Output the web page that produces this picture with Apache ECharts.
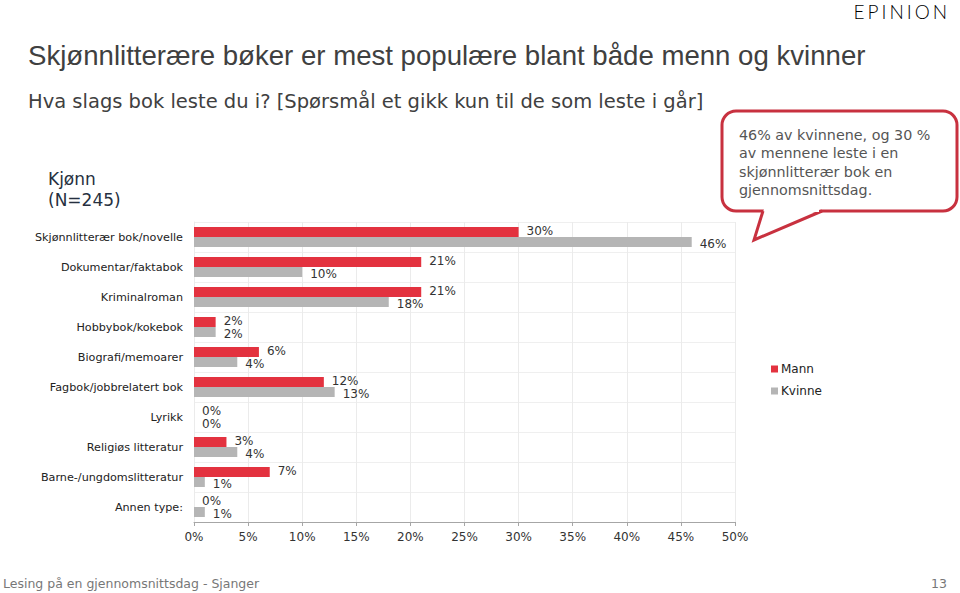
<!DOCTYPE html>
<html>
<head>
<meta charset="utf-8">
<script src="https://cdn.jsdelivr.net/npm/echarts@6/dist/echarts.min.js"></script>
<style>html,body{margin:0;padding:0;background:#fff;}#c{width:960px;height:593px;}</style>
</head>
<body>
<div id="c"></div>
<script>
const categories = ['Skjønnlitterær bok/novelle','Dokumentar/faktabok','Kriminalroman','Hobbybok/kokebok','Biografi/memoarer','Fagbok/jobbrelatert bok','Lyrikk','Religiøs litteratur','Barne-/ungdomslitteratur','Annen type:'];
const mann = [30, 21, 21, 2, 6, 12, 0, 3, 7, 0];
const kvinne = [46, 10, 18, 2, 4, 13, 0, 4, 1, 1];
const seriesNames = ['Mann', 'Kvinne'];
const xTicks = {min: 0, max: 50, interval: 5};

const RED = '#E3323F', GRAY = '#B5B5B5', BORDER = '#C8313F';
const chart = echarts.init(document.getElementById('c'), null, {renderer: 'svg'});
const F = 'DejaVu Sans, Verdana, sans-serif';
function lbl(dy) {
  return {show: true, position: 'right', distance: 8, offset: [0, dy], formatter: '{c}%', fontFamily: F, fontSize: 12, color: '#333'};
}
chart.setOption({
  animation: false,
  backgroundColor: '#fff',
  grid: {left: 194, right: 225, top: 222, bottom: 71, containLabel: false},
  legend: {
    orient: 'vertical', left: 771, top: 363, padding: 0, itemWidth: 7, itemHeight: 7, itemGap: 10,
    icon: 'rect', data: seriesNames,
    textStyle: {fontFamily: F, fontSize: 12, color: '#222', padding: [0, 0, 0, -2]}
  },
  xAxis: {
    type: 'value', min: xTicks.min, max: xTicks.max, interval: xTicks.interval,
    axisLine: {show: true, lineStyle: {color: '#A6A6A6', width: 1}},
    axisTick: {show: true, length: 4, lineStyle: {color: '#A6A6A6'}},
    axisLabel: {formatter: '{value}%', fontFamily: F, fontSize: 12, color: '#333', margin: 9},
    splitLine: {show: true, lineStyle: {color: '#EBEBEB'}}
  },
  yAxis: {
    type: 'category', data: categories, inverse: true,
    axisLine: {show: true, lineStyle: {color: '#EBEBEB'}},
    axisTick: {show: false},
    axisLabel: {fontFamily: F, fontSize: 11.2, color: '#222', margin: 11},
    splitLine: {show: true, lineStyle: {color: '#EFEFEF'}}
  },
  series: [
    {name: seriesNames[0], type: 'bar', data: mann, barWidth: 10, barGap: '0%', itemStyle: {color: RED}, label: lbl(-1)},
    {name: seriesNames[1], type: 'bar', data: kvinne, barWidth: 10, barGap: '0%', itemStyle: {color: GRAY}, label: lbl(1.5)}
  ],
  graphic: [
    {type: 'text', x: 28, y: 41, style: {text: 'Skjønnlitterære bøker er mest populære blant både menn og kvinner', font: '27.6px "Liberation Sans", Arial, sans-serif', fill: '#404040'}},
    {type: 'text', x: 28, y: 91, style: {text: 'Hva slags bok leste du i? [Spørsmål et gikk kun til de som leste i går]', font: '19.5px ' + F, fill: '#404040'}},
    {type: 'text', x: 48, y: 168, style: {text: 'Kjønn\n(N=245)', font: '17px ' + F, fill: '#263040', lineHeight: 21}},
    {type: 'rect', shape: {x: 722, y: 111, width: 235, height: 100, r: 14}, style: {fill: '#fff', stroke: BORDER, lineWidth: 3}, z: 10},
    {type: 'polygon', shape: {points: [[764, 209], [754, 240], [821, 209]]}, style: {fill: '#fff', stroke: null}, z: 11},
    {type: 'polyline', shape: {points: [[763, 211], [754, 240], [822, 211]]}, style: {fill: null, stroke: BORDER, lineWidth: 3, lineJoin: 'miter'}, z: 11},
    {type: 'rect', shape: {x: 765, y: 208, width: 54, height: 4}, style: {fill: '#fff'}, z: 12},
    {type: 'text', x: 739, y: 126, z: 13, style: {text: '46% av kvinnene, og 30 %\nav mennene leste i en\nskjønnlitterær bok en\ngjennomsnittsdag.', font: '14.3px ' + F, fill: '#555', lineHeight: 18.3}},
    {type: 'text', x: 852, y: 2, style: {rich: {a: {fontFamily: 'Lato, sans-serif', fontWeight: 300, fontSize: 19, color: '#333', padding: [0, 1.5]}, r: {fontFamily: 'Lato, sans-serif', fontWeight: 300, fontSize: 19, color: BORDER, padding: [0, 1.5]}}, text: '{a|E}{a|P}{a|I}{a|N}{a|I}{r|O}{a|N}'}},
    {type: 'text', x: 3, y: 577, style: {text: 'Lesing på en gjennomsnittsdag - Sjanger', font: '12.5px ' + F, fill: '#777'}},
    {type: 'text', x: 931, y: 577, style: {text: '13', font: '12.5px ' + F, fill: '#777'}}
  ]
});
</script>
</body>
</html>
